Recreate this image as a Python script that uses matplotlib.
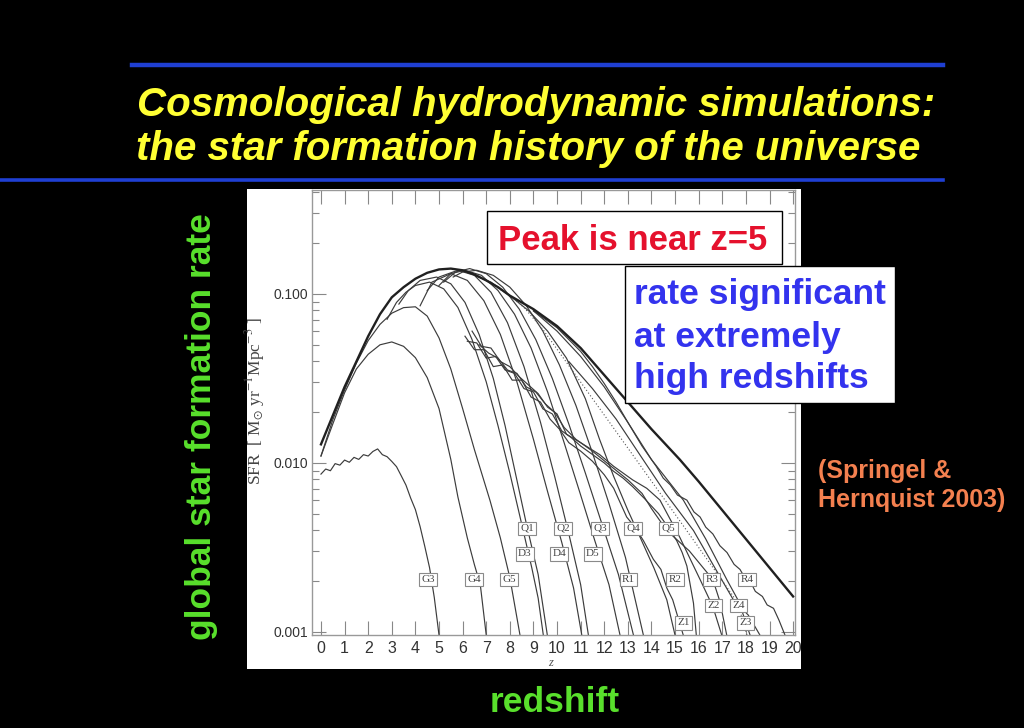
import numpy as np
import matplotlib
matplotlib.use("Agg")
import matplotlib.pyplot as plt
from matplotlib.patches import Rectangle
from matplotlib.ticker import FixedLocator, LogLocator, NullFormatter, FuncFormatter

plt.rcParams['mathtext.fontset'] = 'stix'

W, H = 1024, 728

def px(x, y):
    # pixel position (from top-left) -> figure fraction
    return x / W, 1 - y / H

# ---- data: redshift z and log10(SFR) ----
z_fit = [0, 0.5, 1, 1.5, 2, 2.5, 3, 3.5, 4, 4.5, 5, 5.5, 6, 6.5, 7, 7.5, 8, 9, 10, 11, 12, 13, 14, 15.2, 16, 17, 18, 19, 20]
lsfr_fit = [-1.89, -1.72, -1.55, -1.40, -1.25, -1.12, -1.02, -0.96, -0.91, -0.875, -0.855, -0.85, -0.86, -0.885,
            -0.92, -0.96, -1.01, -1.09, -1.19, -1.32, -1.48, -1.64, -1.80, -1.98, -2.11, -2.28, -2.45, -2.62, -2.79]

z_dot = [7.0, 8.0, 8.6, 9.4, 12.25, 15.34, 17.47, 17.8, 18.05]
lsfr_dot = [-0.92, -1.01, -1.08, -1.21, -1.765, -2.37, -2.79, -2.90, -3.02]

z_g3 = [0, 0.2, 0.4, 0.6, 0.8, 1.0, 1.2, 1.4, 1.6, 1.8, 2.0, 2.2, 2.4, 2.6, 2.8, 3.0, 3.2, 3.4, 3.6, 3.8, 4.0,
        4.2, 4.4, 4.6, 4.8, 5.0]
lsfr_g3 = [-2.066, -2.036, -2.046, -2.004, -2.013, -1.983, -1.996, -1.967, -1.979, -1.951, -1.959, -1.932, -1.917,
           -1.951, -1.963, -1.991, -2.022, -2.076, -2.131, -2.208, -2.276, -2.377, -2.495, -2.620, -2.796, -3.018]

z_g4 = [0, 0.5, 1, 1.5, 2, 2.5, 3, 3.5, 4, 4.5, 5, 5.5, 5.8, 6.2, 6.5, 6.75, 7.0]
lsfr_g4 = [-1.959, -1.770, -1.585, -1.444, -1.357, -1.301, -1.284, -1.310, -1.377, -1.495, -1.678, -1.979, -2.201,
           -2.444, -2.602, -2.721, -3.018]

z_g5 = [0, 0.5, 1, 1.5, 2, 2.5, 3, 3.5, 4, 4.5, 5, 5.5, 6, 6.5, 7.16, 7.6, 8.0, 8.43]
lsfr_g5 = [-1.959, -1.745, -1.569, -1.409, -1.276, -1.180, -1.114, -1.081, -1.076, -1.131, -1.260, -1.444, -1.678,
           -1.921, -2.222, -2.444, -2.678, -3.018]

z_d3 = [2.8, 3.2, 3.6, 4.0, 4.6, 5.2, 5.8, 6.4, 7.0, 7.5, 8.0, 8.5, 8.93, 9.2, 9.42]
lsfr_d3 = [-1.15, -1.05, -0.99, -0.95, -0.93, -0.97, -1.08, -1.27, -1.52, -1.78, -2.06, -2.36, -2.62, -2.80, -3.02]

z_q1 = [3.3, 3.7, 4.2, 4.9, 5.5, 6.1, 6.7, 7.3, 7.8, 8.22, 8.7, 9.2, 9.59]
lsfr_q1 = [-1.06, -0.98, -0.92, -0.90, -0.94, -1.05, -1.24, -1.50, -1.78, -2.05, -2.36, -2.66, -3.02]

z_d4 = [4.2, 4.7, 5.5, 6.2, 6.9, 7.6, 8.3, 9.0, 9.6, 10.2, 10.7, 11.05]
lsfr_d4 = [-1.07, -0.93, -0.88, -0.92, -1.04, -1.24, -1.52, -1.86, -2.17, -2.47, -2.74, -3.02]

z_q2 = [4.5, 5.0, 5.8, 6.5, 7.2, 7.9, 8.6, 9.3, 9.9, 10.5, 11.0, 11.33]
lsfr_q2 = [-0.98, -0.90, -0.86, -0.89, -0.99, -1.17, -1.43, -1.76, -2.08, -2.42, -2.72, -3.02]

z_d5 = [5.0, 5.5, 6.1, 6.8, 7.5, 8.2, 8.9, 9.6, 10.3, 11.0, 11.6, 12.2, 12.67]
lsfr_d5 = [-0.95, -0.88, -0.86, -0.89, -0.98, -1.12, -1.32, -1.58, -1.88, -2.19, -2.46, -2.72, -3.02]

z_q3 = [5.2, 5.7, 6.3, 7.0, 7.7, 8.4, 9.1, 9.8, 10.5, 11.2, 11.9, 12.6, 13.24]
lsfr_q3 = [-0.93, -0.87, -0.85, -0.88, -0.96, -1.09, -1.27, -1.50, -1.77, -2.06, -2.36, -2.66, -3.02]

z_q4 = [5.6, 6.0, 6.6, 7.3, 8.0, 8.7, 9.4, 10.1, 10.8, 11.5, 12.2, 12.9, 13.66]
lsfr_q4 = [-0.90, -0.87, -0.86, -0.89, -0.96, -1.07, -1.22, -1.42, -1.66, -1.94, -2.24, -2.56, -3.02]

z_r1 = [6.5, 7.2, 8.0, 8.8, 9.6, 10.4, 11.2, 11.8, 12.4, 13.0, 13.52, 14.1, 14.65, 15.0]
lsfr_r1 = [-0.89, -0.93, -1.01, -1.10, -1.22, -1.38, -1.62, -1.86, -2.08, -2.28, -2.44, -2.62, -2.81, -3.02]

# noisy bundle that starts near z=6
z_r2 = [6.1, 6.5, 6.9, 7.3, 7.7, 8.1, 8.5, 8.9, 9.3, 9.7, 10.1, 10.5, 11.0, 11.5, 12.0, 12.4, 12.95, 13.3, 13.66,
        14.08, 14.4, 14.65, 14.9, 15.2, 15.35]
lsfr_r2 = [-1.25, -1.33, -1.33, -1.43, -1.42, -1.51, -1.51, -1.61, -1.64, -1.74, -1.80, -1.88, -1.93, -1.99, -2.07,
           -2.15, -2.32, -2.38, -2.46, -2.57, -2.63, -2.74, -2.81, -2.95, -3.02]

z_z1 = [6.2, 6.6, 7.0, 7.4, 7.8, 8.2, 8.6, 9.0, 9.4, 9.8, 10.2, 10.6, 11.0, 11.5, 12.0, 12.4, 12.8, 13.2, 13.7,
        14.3, 14.7, 15.07, 15.3, 15.5, 15.78, 15.9]
lsfr_z1 = [-1.28, -1.29, -1.38, -1.37, -1.45, -1.47, -1.56, -1.58, -1.68, -1.71, -1.81, -1.85, -1.90, -1.95, -2.00,
           -2.05, -2.09, -2.14, -2.21, -2.30, -2.38, -2.46, -2.53, -2.61, -2.83, -3.02]

z_q5 = [6.4, 6.8, 7.2, 7.6, 8.0, 8.4, 8.8, 9.2, 9.6, 10.0, 10.4, 11.0, 11.8, 12.4, 13.2, 13.8, 14.36, 15.2, 16.06,
        16.6, 16.98]
lsfr_q5 = [-1.22, -1.31, -1.32, -1.40, -1.43, -1.49, -1.54, -1.59, -1.67, -1.71, -1.83, -1.88, -1.95, -2.02, -2.10,
           -2.15, -2.22, -2.44, -2.69, -2.85, -3.02]

z_z2 = [6.7, 7.1, 7.5, 7.9, 8.3, 8.7, 9.1, 9.5, 9.9, 10.3, 10.8, 11.5, 12.2, 13.0, 13.6, 14.0, 14.65, 15.6, 16.6,
        16.9, 17.19]
lsfr_z2 = [-1.30, -1.35, -1.38, -1.45, -1.47, -1.55, -1.58, -1.65, -1.70, -1.79, -1.86, -1.93, -2.01, -2.10, -2.18,
           -2.27, -2.40, -2.52, -2.69, -2.82, -3.02]

z_z4 = [9.0, 10.0, 11.0, 12.0, 13.0, 14.0, 15.35, 16.3, 17.19, 17.7, 18.18]
lsfr_z4 = [-1.10, -1.22, -1.37, -1.55, -1.76, -1.98, -2.22, -2.45, -2.69, -2.82, -3.02]

z_z3 = [10.5, 11.5, 12.5, 13.5, 14.6, 15.78, 16.6, 17.47, 18.1, 18.6]
lsfr_z3 = [-1.40, -1.56, -1.74, -1.95, -2.18, -2.40, -2.60, -2.81, -2.90, -3.02]

z_r4 = [9.0, 10.0, 11.0, 11.5, 12.0, 12.5, 13.0, 13.6, 14.2, 14.5, 14.8, 15.1, 15.5, 15.8, 16.06, 16.3, 16.6, 16.9,
        17.2, 17.5, 17.75, 18.0, 18.18, 18.4, 18.7, 18.9, 19.17, 19.4, 19.66]
lsfr_r4 = [-1.10, -1.20, -1.34, -1.43, -1.53, -1.64, -1.76, -1.90, -2.02, -2.09, -2.13, -2.19, -2.22, -2.29, -2.32,
           -2.38, -2.42, -2.49, -2.53, -2.60, -2.63, -2.69, -2.70, -2.76, -2.79, -2.84, -2.86, -2.93, -3.02]

thin_curves = [(z_g3, lsfr_g3), (z_g4, lsfr_g4), (z_g5, lsfr_g5), (z_d3, lsfr_d3), (z_q1, lsfr_q1),
               (z_d4, lsfr_d4), (z_q2, lsfr_q2), (z_d5, lsfr_d5), (z_q3, lsfr_q3), (z_q4, lsfr_q4),
               (z_r1, lsfr_r1), (z_r2, lsfr_r2), (z_z1, lsfr_z1), (z_q5, lsfr_q5), (z_z2, lsfr_z2),
               (z_z4, lsfr_z4), (z_z3, lsfr_z3), (z_r4, lsfr_r4)]

# run labels
run_names = ['G3', 'G4', 'G5', 'Q1', 'D3', 'Q2', 'D4', 'Q3', 'D5', 'R1', 'Q4', 'Q5', 'R2', 'R3', 'R4',
             'Z2', 'Z4', 'Z1', 'Z3']
run_z = [4.55, 6.48, 7.98, 8.74, 8.64, 10.27, 10.10, 11.82, 11.51, 13.02, 13.23, 14.72, 15.00, 16.55, 18.04,
         16.62, 17.68, 15.35, 17.97]
run_sfr = [0.00205, 0.00205, 0.00205, 0.0041, 0.0029, 0.0041, 0.0029, 0.0041, 0.0029, 0.00205, 0.0041, 0.0041,
           0.00205, 0.00205, 0.00205, 0.00143, 0.00143, 0.00113, 0.00113]

x_ticks = list(range(0, 21))
y_ticks = [0.001, 0.010, 0.100]

# ---- slide ----
fig = plt.figure(figsize=(W / 100, H / 100), dpi=100, facecolor='black')

blue = '#1f3fd2'
fig.add_artist(plt.Line2D([132 / W, 943 / W], [1 - 65 / H] * 2, color=blue, lw=3.2))
fig.add_artist(plt.Line2D([0, 943 / W], [1 - 179.5 / H] * 2, color=blue, lw=2.6))

title_kw = dict(color='#ffff33', fontsize=29, fontweight='bold', fontstyle='italic', family='Liberation Sans')
fig.text(*px(137, 116), 'Cosmological hydrodynamic simulations:', va='baseline', **title_kw)
fig.text(*px(136, 160), 'the star formation history of the universe', va='baseline', **title_kw)

# white panel behind the plot
fig.add_artist(Rectangle(px(247, 669), 554 / W, 480 / H, transform=fig.transFigure,
                         facecolor='white', edgecolor='none', zorder=-1))

ax = fig.add_axes([312 / W, 1 - 635 / H, 483 / W, 445 / H])
ax.set_facecolor('white')

gray = '#3c3c3c'
for zz, ll in thin_curves:
    ax.plot(zz, 10 ** np.array(ll), color=gray, lw=0.85)
ax.plot(z_dot, 10 ** np.array(lsfr_dot), color='#555555', lw=0.8, ls=(0, (1, 2)))
ax.plot(z_fit, 10 ** np.array(lsfr_fit), color='#202020', lw=1.7)

for name, zz, ss in zip(run_names, run_z, run_sfr):
    ax.text(zz, ss, name, ha='center', va='center', fontsize=8, family='Liberation Serif', color='#444444',
            bbox=dict(boxstyle='square,pad=0.2', fc='white', ec='#8a8a8a', lw=0.8), zorder=5)

ax.set_yscale('log')
ax.set_xlim(-0.38, 20.08)
ax.set_ylim(10 ** -3.018, 10 ** -0.385)
ax.xaxis.set_major_locator(FixedLocator(x_ticks))
ax.yaxis.set_major_locator(FixedLocator(y_ticks))
ax.yaxis.set_minor_locator(LogLocator(base=10, subs=np.arange(2, 10)))
ax.yaxis.set_minor_formatter(NullFormatter())
ax.yaxis.set_major_formatter(FuncFormatter(lambda v, p: f'{v:.3f}'))
ax.tick_params(which='both', direction='in', top=True, right=True, color='#888888')
ax.tick_params(which='major', length=10, width=0.8)
ax.tick_params(which='minor', length=5, width=0.8)
ax.tick_params(axis='x', labelsize=11.5, labelcolor='#333333', pad=4)
ax.tick_params(axis='y', labelsize=10, labelcolor='#333333', pad=3)
for lab in ax.get_xticklabels() + ax.get_yticklabels():
    lab.set_family('Liberation Sans')
for sp in ax.spines.values():
    sp.set_color('#999999')
    sp.set_linewidth(1.0)

fig.text(*px(255, 401), r'SFR  [ M$_{\odot}$ yr$^{-1}$Mpc$^{-3}$ ]', rotation=90, ha='center', va='center',
         fontsize=12.5, family='Liberation Serif', color='#444444')
fig.text(*px(551, 663), 'z', ha='center', va='center', fontsize=9, family='Liberation Serif',
         fontstyle='italic', color='#555555')

# annotation boxes
fig.add_artist(Rectangle(px(487, 264), 295 / W, 53 / H, transform=fig.transFigure,
                         facecolor='white', edgecolor='black', lw=1.0, zorder=3))
fig.text(*px(498, 250), 'Peak is near z=5', va='baseline', color='#e5112d', fontsize=25,
         fontweight='bold', family='Liberation Sans', zorder=4)

fig.add_artist(Rectangle(px(625, 403), 270 / W, 137 / H, transform=fig.transFigure,
                         facecolor='white', edgecolor='black', lw=1.0, zorder=3))
for txt, base in zip(['rate significant', 'at extremely', 'high redshifts'], [304, 347, 388]):
    fig.text(*px(634, base), txt, va='baseline', color='#3333ee', fontsize=25.5,
             fontweight='bold', family='Liberation Sans', zorder=4)

ref_kw = dict(color='#f4804f', fontsize=18, fontweight='bold', family='Liberation Sans', va='baseline')
fig.text(*px(818, 478), '(Springel &', **ref_kw)
fig.text(*px(818, 507), 'Hernquist 2003)', **ref_kw)

green = '#59e02c'
fig.text(*px(201, 427), 'global star formation rate', rotation=90, ha='center', va='center', color=green,
         fontsize=25.5, fontweight='bold', family='Liberation Sans')
fig.text(*px(555, 703), 'redshift', ha='center', va='center', color=green, fontsize=25.5,
         fontweight='bold', family='Liberation Sans')

fig.savefig('out.png', dpi=100, facecolor='black')
